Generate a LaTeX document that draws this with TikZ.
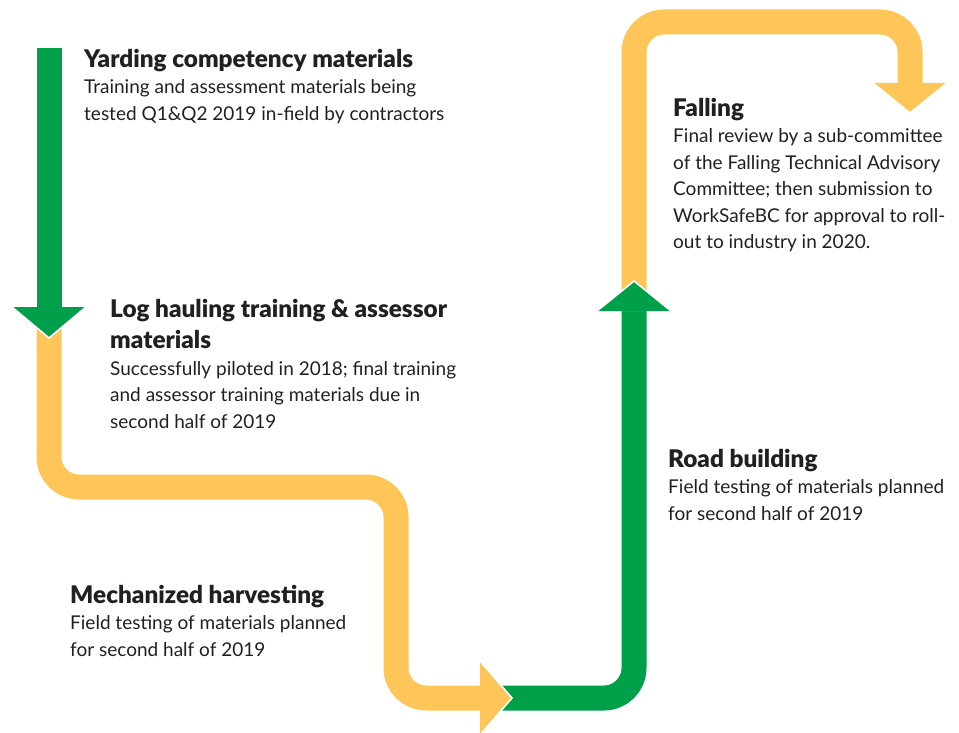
\documentclass[tikz,border=0pt]{standalone}
\usepackage{fontspec}
\setmainfont{Lato}[BoldFont={Lato Black}]
\usetikzlibrary{positioning}

\definecolor{trackgreen}{RGB}{0,160,75}
\definecolor{trackyellow}{RGB}{254,198,88}
\definecolor{ink}{RGB}{35,31,32}

\tikzset{
  band/.style={line width=25pt, rounded corners=30pt},
  tip/.style={draw=white, line width=1.6pt, line join=miter},
  stage/.style={anchor=north west, align=left, inner sep=0pt, text=ink,
    font=\fontsize{19}{26.5}\selectfont},
}
\newcommand{\stagetitle}[1]{{\fontsize{24.3}{26.5}\selectfont\bfseries #1}}

\begin{document}
\begin{tikzpicture}[x=1pt,y=-1pt]
  \useasboundingbox (0,0) rectangle (959,733);

  % corners of the track
  \coordinate (g1a) at (49,48);
  \coordinate (g1b) at (49,307);
  \coordinate (y1a) at (49,487);
  \coordinate (y1b) at (396,487);
  \coordinate (y1c) at (396,698);
  \coordinate (y1d) at (480,698);
  \coordinate (g2a) at (634,698);
  \coordinate (g2b) at (634,311);
  \coordinate (y2a) at (634,22);
  \coordinate (y2b) at (910,22);
  \coordinate (y2c) at (910,83);

  % bands
  \draw[band, trackgreen] (g1a) -- (g1b);
  \draw[band, trackyellow] (g1b) -- (y1a) -- (y1b) -- (y1c) -- (y1d);
  \draw[band, trackgreen] (y1d) -- (g2a) -- (g2b);
  \draw[band, trackyellow] (g2b) -- (y2a) -- (y2b) -- (y2c);

  % arrow heads, white edge on the tip side only
  \filldraw[tip, fill=trackgreen] ([xshift=-37pt]g1b) -- ([yshift=-31pt]g1b) -- ([xshift=37pt]g1b);
  \filldraw[tip, fill=trackyellow] ([yshift=37pt]y1d) -- ([xshift=32pt]y1d) -- ([yshift=-37pt]y1d);
  \filldraw[tip, fill=trackgreen] ([xshift=-37pt]g2b) -- ([yshift=30pt]g2b) -- ([xshift=37pt]g2b);
  \filldraw[tip, fill=trackyellow] ([xshift=-37pt]y2c) -- ([yshift=-30pt]y2c) -- ([xshift=37pt]y2c);

  % stages
  \node[stage] (yarding) at (84,49) {\stagetitle{Yarding competency materials}\\
    Training and assessment materials being\\
    tested Q1\&Q2 2019 in-field by contractors};
  \node[stage] (hauling) at (110,299) {\stagetitle{Log hauling training \& assessor}\\[5pt]
    \stagetitle{materials}\\
    Successfully piloted in 2018; final training\\
    and assessor training materials due in\\
    second half of 2019};
  \node[stage] (mechanized) at (70,585) {\stagetitle{Mechanized harvesting}\\
    Field testing of materials planned\\
    for second half of 2019};
  \node[stage] (road) at (668,449) {\stagetitle{Road building}\\
    Field testing of materials planned\\
    for second half of 2019};
  \node[stage] (falling) at (673,98) {\stagetitle{Falling}\\
    Final review by a sub-committee\\
    of the Falling Technical Advisory\\
    Committee; then submission to\\
    WorkSafeBC for approval to roll-\\
    out to industry in 2020.};
\end{tikzpicture}
\end{document}
